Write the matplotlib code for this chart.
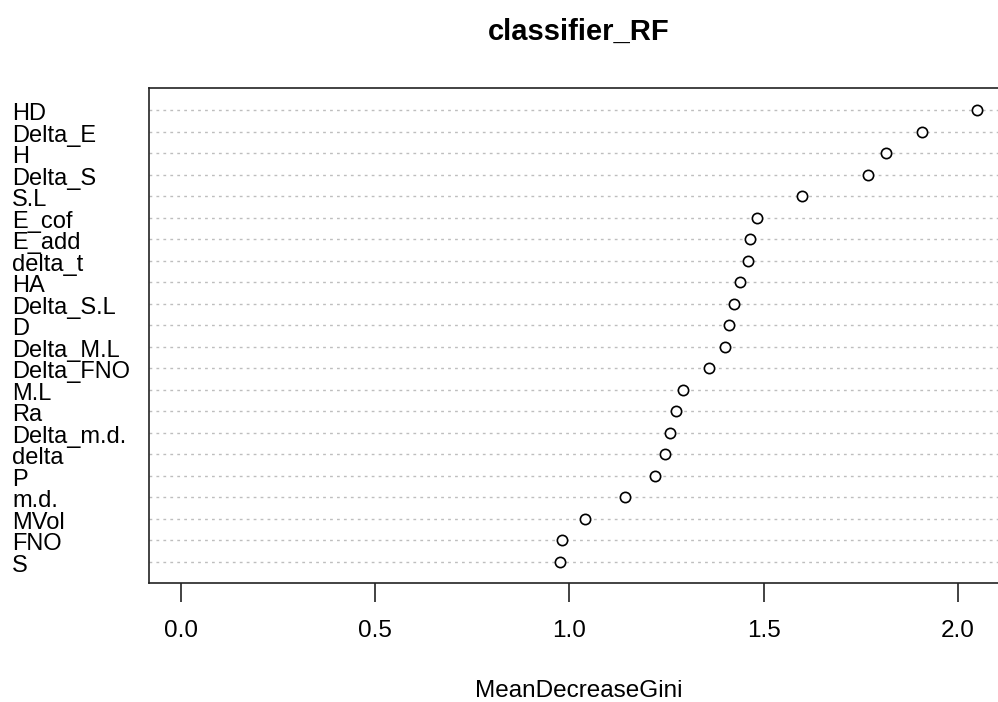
import matplotlib
matplotlib.use("Agg")
import matplotlib.pyplot as plt
from matplotlib import transforms

plt.rcParams["font.family"] = ["Liberation Sans", "DejaVu Sans"]

# Variable importance (random forest), top to bottom as drawn
features = ["HD", "Delta_E", "H", "Delta_S", "S.L", "E_cof", "E_add", "delta_t",
            "HA", "Delta_S.L", "D", "Delta_M.L", "Delta_FNO", "M.L", "Ra",
            "Delta_m.d.", "delta", "P", "m.d.", "MVol", "FNO", "S"]
gini = [2.050, 1.907, 1.814, 1.770, 1.600, 1.484, 1.464, 1.460,
        1.440, 1.425, 1.412, 1.401, 1.360, 1.293, 1.274,
        1.258, 1.245, 1.221, 1.142, 1.039, 0.982, 0.975]
xticks = [0.0, 0.5, 1.0, 1.5, 2.0]
title = "classifier_RF"
xlabel = "MeanDecreaseGini"

W, H = 998, 702
fig = plt.figure(figsize=(W / 100, H / 100), dpi=100)

left, right, top, bottom = 149.3, 1009.0, 88.3, 582.7
ax = fig.add_axes([left / W, 1 - bottom / H, (right - left) / W, (bottom - top) / H])

n = len(features)
ypos = list(range(n, 0, -1))

for y in ypos:
    ax.axhline(y, color="#bebebe", lw=1.0, ls=(0, (2, 3)), zorder=1)
ax.plot(gini, ypos, ls="none", marker="o", ms=7.4, mfc="white",
        mec="black", mew=1.2, zorder=3)

ax.set_xlim(-0.082, 2.132)
ax.set_ylim(0.02, n + 1.01)

for s in ax.spines.values():
    s.set_linewidth(1.2)
    s.set_color("#222222")

ax.set_xticks(xticks)
ax.set_xticklabels([])
ax.tick_params(axis="x", length=14, width=1.2, color="#222222")
ax.set_yticks([])

# tick labels, baseline a fixed distance below the axis
tick_tr = transforms.blended_transform_factory(ax.transData, fig.transFigure)
for t in xticks:
    fig.text(t, 1 - 637 / H, f"{t:.1f}", transform=tick_tr, ha="center",
             va="baseline", fontsize=17.5)

# row labels: figure-x, data-y, baseline shifted below the row line
lab_tr = transforms.blended_transform_factory(fig.transFigure, ax.transData)
lab_tr = transforms.offset_copy(lab_tr, fig=fig, x=0, y=-10, units="dots")
for name, y in zip(features, ypos):
    fig.text(12 / W, y, name, transform=lab_tr, fontsize=17,
             va="baseline", ha="left")

fig.text(579 / W, 1 - 40 / H, title, ha="center", va="baseline",
         fontsize=21, fontweight="bold")
fig.text(579 / W, 1 - 697 / H, xlabel, ha="center", va="baseline",
         fontsize=17.5)

fig.savefig("out.png", dpi=100)
